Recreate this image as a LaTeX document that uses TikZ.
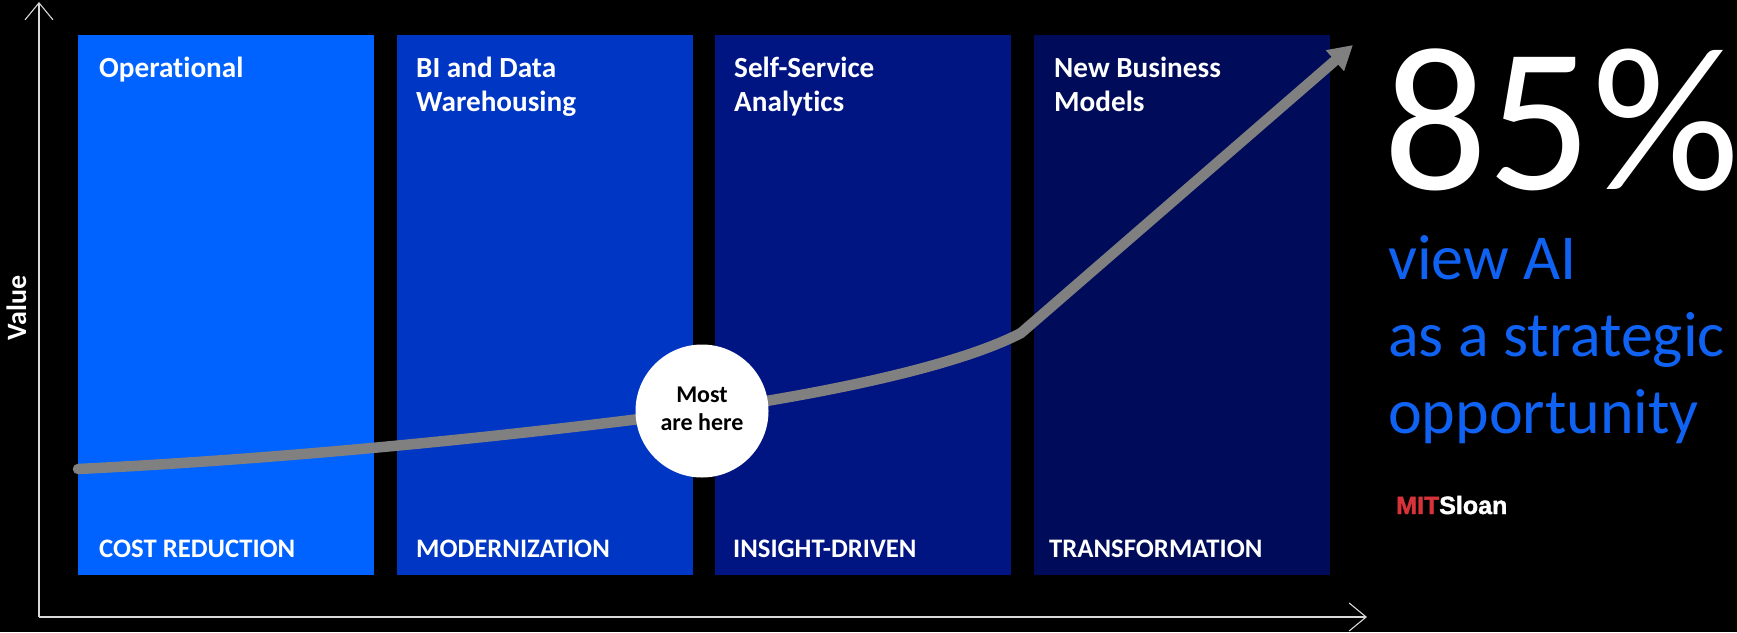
\documentclass[tikz,border=0pt]{standalone}
\usepackage{fontspec}
\setmainfont[Ligatures=NoCommon]{Carlito}
\newfontfamily\logofont[BoldFeatures={FakeBold=1.5}]{Liberation Sans}
\usetikzlibrary{arrows.meta}
\definecolor{pone}{HTML}{0062FF}
\definecolor{ptwo}{HTML}{0036C4}
\definecolor{pthree}{HTML}{001482}
\definecolor{pfour}{HTML}{000C5A}
\definecolor{curvegray}{HTML}{808080}
\definecolor{statblue}{HTML}{0F62F2}
\definecolor{mitred}{HTML}{D8333A}
\tikzset{
  panel/.style={minimum width=296pt,minimum height=540pt,inner sep=0pt,outer sep=0pt,draw=none},
  head/.style={anchor=base west,inner sep=0pt,text=white,font=\fontsize{29.2}{29.2}\selectfont\bfseries},
  foot/.style={anchor=base west,inner sep=0pt,text=white,font=\fontsize{26.7}{26.7}\selectfont\bfseries},
  stat/.style={anchor=base west,inner sep=0pt,text=statblue,font=\fontsize{64}{64}\selectfont},
  axisline/.style={draw=white!85!black,line width=1.1pt,-{Straight Barb[length=17pt,width=28pt,line width=1.1pt]}},
  growth/.style={draw=curvegray,line width=10.5pt,line cap=round,line join=round,-{Triangle[length=24pt,width=26pt,fill=curvegray]}},
  mostlabel/.style={anchor=base,inner sep=0pt,text=black,font=\fontsize{24}{24}\selectfont\bfseries},
}
\begin{document}
\begin{tikzpicture}[x=1pt,y=-1pt]
\useasboundingbox (0,0) rectangle (1737,632);
\fill[black] (0,0) rectangle (1737,632);

\coordinate (origin) at (39,617);
\coordinate (ytip) at (39,2);
\coordinate (xtip) at (1367,617);
\draw[axisline] (origin) -- (ytip);
\draw[axisline] (origin) -- (xtip);

\node[panel,fill=pone] (p1) at (226,305) {};
\node[panel,fill=ptwo] (p2) at (545,305) {};
\node[panel,fill=pthree] (p3) at (863,305) {};
\node[panel,fill=pfour] (p4) at (1182,305) {};

\node[head] (h1) at (99,77) {Operational};
\node[head] (h2a) at (416,77) {BI and Data};
\node[head] (h2b) at (416,111) {Warehousing};
\node[head] (h3a) at (734,77) {Self-Service};
\node[head] (h3b) at (734,111) {Analytics};
\node[head] (h4a) at (1054,77) {New Business};
\node[head] (h4b) at (1054,111) {Models};

\node[foot] (f1) at (99,557) {COST REDUCTION};
\node[foot] (f2) at (416,557) {MODERNIZATION};
\node[foot] (f3) at (733,557) {INSIGHT-DRIVEN};
\node[foot] (f4) at (1049,557) {TRANSFORMATION};

\node[anchor=base,rotate=90,inner sep=0pt,text=white,font=\fontsize{28}{28}\selectfont\bfseries] (val) at (26,308) {Value};

\coordinate (cstart) at (78,469);
\coordinate (cmid) at (702,411);
\coordinate (cbend) at (1021,333);
\coordinate (ctip) at (1353,45);
\draw[growth] (cstart) .. controls (300,458) and (520,435) .. (cmid)
  .. controls (800,397) and (950,370) .. (cbend) -- (ctip);

\node[circle,fill=white,minimum size=133pt,inner sep=0pt] (most) at (702,411) {};
\node[mostlabel] (m1) at (702,402) {Most};
\node[mostlabel] (m2) at (702,430.5) {are here};

\node[anchor=base west,inner sep=0pt,text=white,font=\fontsize{206}{206}\selectfont] (pct) at (1383,189) {85\%};
\node[stat] (s1) at (1388,279) {view AI};
\node[stat] (s2) at (1388,356) {as a strategic};
\node[stat] (s3) at (1388,433) {opportunity};
\node[anchor=base west,inner sep=0pt,text=white,font=\logofont\bfseries\fontsize{25}{25}\selectfont] (logo) at (1396,514) {\textcolor{mitred}{MIT}Sloan};
\end{tikzpicture}
\end{document}
